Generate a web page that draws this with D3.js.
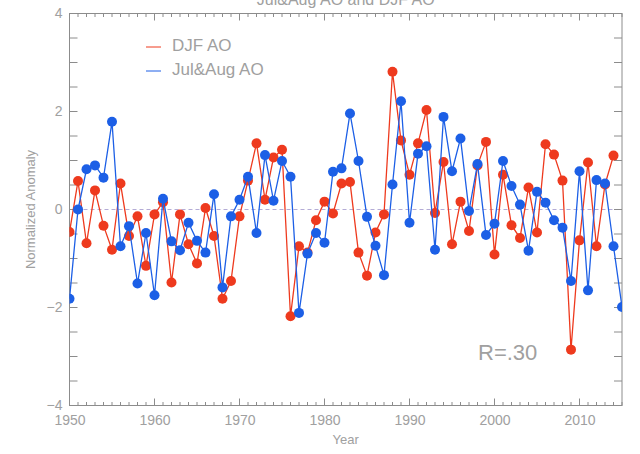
<!DOCTYPE html>
<html><head><meta charset="utf-8">
<script src="https://cdn.jsdelivr.net/npm/d3@7"></script>
<style>body{margin:0;background:#fff}svg{display:block}</style>
</head><body>
<script>
const years = d3.range(1950, 2016);
const djfYears = d3.range(1950, 2015);
const djfAO = [-0.46,0.58,-0.69,0.39,-0.33,-0.82,0.53,-0.54,-0.14,-1.15,
 -0.10,0.15,-1.49,-0.10,-0.71,-1.10,0.03,-0.54,-1.82,-1.46,
 -0.14,0.59,1.35,0.20,1.06,1.22,-2.18,-0.75,-0.88,-0.22,
 0.16,-0.08,0.53,0.56,-0.88,-1.35,-0.47,-0.10,2.81,1.41,
 0.71,1.35,2.03,-0.07,0.97,-0.71,0.16,-0.44,0.90,1.38,
 -0.92,0.71,-0.32,-0.58,0.45,-0.47,1.33,1.12,0.59,-2.86,
 -0.63,0.96,-0.75,0.51,1.10];
const julAugAO = [-1.82,0.00,0.82,0.90,0.65,1.79,-0.75,-0.34,-1.51,-0.48,
 -1.75,0.22,-0.65,-0.83,-0.27,-0.64,-0.88,0.31,-1.59,-0.14,
 0.20,0.67,-0.48,1.11,0.18,0.99,0.67,-2.11,-0.90,-0.48,
 -0.68,0.77,0.84,1.96,0.99,-0.15,-0.74,-1.34,0.51,2.21,
 -0.27,1.14,1.29,-0.82,1.89,0.78,1.45,-0.03,0.93,-0.52,
 -0.29,0.99,0.48,0.10,-0.84,0.36,0.14,-0.22,-0.37,-1.46,
 0.78,-1.65,0.60,0.53,-0.75,-1.99];
const xTicks = [1950,1960,1970,1980,1990,2000,2010];
const yTicks = [-4,-2,0,2,4];
const seriesNames = ["DJF AO","Jul&Aug AO"];
const title = "Jul&Aug AO and DJF AO";
const corrText = "R=.30";

const W=640,H=454;
const L=69.5,R=622,T=13.5,B=405.5;
const RED="#ee3a1e", BLUE="#1c5fe6", GRAY="#8c8c8c", TXT="#a0a0a0";
const FONT="'Liberation Sans', Arial, sans-serif";

const svg=d3.select("body").append("svg").attr("width",W).attr("height",H);
const x=d3.scaleLinear().domain([1950,2015]).range([L,R]);
const y=d3.scaleLinear().domain([-4,4]).range([B,T]);

svg.append("defs").append("clipPath").attr("id","clip")
  .append("rect").attr("x",L).attr("y",T).attr("width",R-L).attr("height",B-T);

// zero dashed line
svg.append("line").attr("x1",L).attr("x2",R).attr("y1",y(0)).attr("y2",y(0))
  .attr("stroke","#b4acd6").attr("stroke-dasharray","4,3").attr("stroke-width",1);

// axes (box with inward ticks)
const minorX=d3.range(1950,2016,1), minorY=d3.range(-4,4.01,0.5);
const gAx=svg.append("g").attr("stroke",GRAY).attr("stroke-width",1).attr("fill","none");
gAx.append("rect").attr("x",L).attr("y",T).attr("width",R-L).attr("height",B-T);
minorX.forEach(v=>{
  const len = (v%10===0)?7:3.5;
  gAx.append("line").attr("x1",x(v)).attr("x2",x(v)).attr("y1",B).attr("y2",B-len);
  gAx.append("line").attr("x1",x(v)).attr("x2",x(v)).attr("y1",T).attr("y2",T+len);
});
minorY.forEach(v=>{
  const len = 8;
  gAx.append("line").attr("x1",L).attr("x2",L+len).attr("y1",y(v)).attr("y2",y(v));
  gAx.append("line").attr("x1",R).attr("x2",R-len).attr("y1",y(v)).attr("y2",y(v));
});

// tick labels via d3 axes (lines hidden)
const xa=svg.append("g").attr("transform",`translate(0,${B})`)
  .call(d3.axisBottom(x).tickValues(xTicks).tickFormat(d3.format("d")).tickSize(0).tickPadding(10));
const ya=svg.append("g").attr("transform",`translate(${L},0)`)
  .call(d3.axisLeft(y).tickValues(yTicks).tickFormat(d=>d<0?"\u2212"+Math.abs(d):d).tickSize(0).tickPadding(7));
[xa,ya].forEach(g=>{g.select(".domain").remove();
  g.selectAll("text").attr("fill",TXT).attr("font-family",FONT).attr("font-size",14);});

// titles
svg.append("text").attr("x",(L+R)/2).attr("y",5).attr("text-anchor","middle")
  .attr("fill",TXT).attr("font-family",FONT).attr("font-size",16).text(title);
svg.append("text").attr("x",(L+R)/2).attr("y",444).attr("text-anchor","middle")
  .attr("fill",TXT).attr("font-family",FONT).attr("font-size",13).text("Year");
svg.append("text").attr("transform",`translate(35,${(T+B)/2}) rotate(-90)`).attr("text-anchor","middle")
  .attr("fill",TXT).attr("font-family",FONT).attr("font-size",13).text("Normalized Anomaly");

// series
const plot=svg.append("g").attr("clip-path","url(#clip)");
function draw(xs, vals, color){
  const pts=xs.map((yr,i)=>[yr,vals[i]]);
  plot.append("path").datum(pts).attr("fill","none").attr("stroke",color).attr("stroke-width",1.3)
    .attr("d",d3.line().x(d=>x(d[0])).y(d=>y(d[1])));
  plot.append("g").selectAll("circle").data(pts).join("circle")
    .attr("cx",d=>x(d[0])).attr("cy",d=>y(d[1])).attr("r",5).attr("fill",color);
}
draw(djfYears, djfAO, RED);
draw(years, julAugAO, BLUE);

// legend
const leg=[{name:seriesNames[0],c:RED,y:47},{name:seriesNames[1],c:BLUE,y:71}];
leg.forEach(l=>{
  svg.append("line").attr("x1",146).attr("x2",161).attr("y1",l.y).attr("y2",l.y).attr("stroke",l.c).attr("stroke-width",1);
  svg.append("text").attr("x",172).attr("y",l.y+4).attr("fill",TXT).attr("font-family",FONT)
    .attr("font-size",17).text(l.name);
});

svg.append("text").attr("x",478).attr("y",360).attr("fill",TXT).attr("font-family",FONT)
  .attr("font-size",22).text(corrText);
</script>
</body></html>
